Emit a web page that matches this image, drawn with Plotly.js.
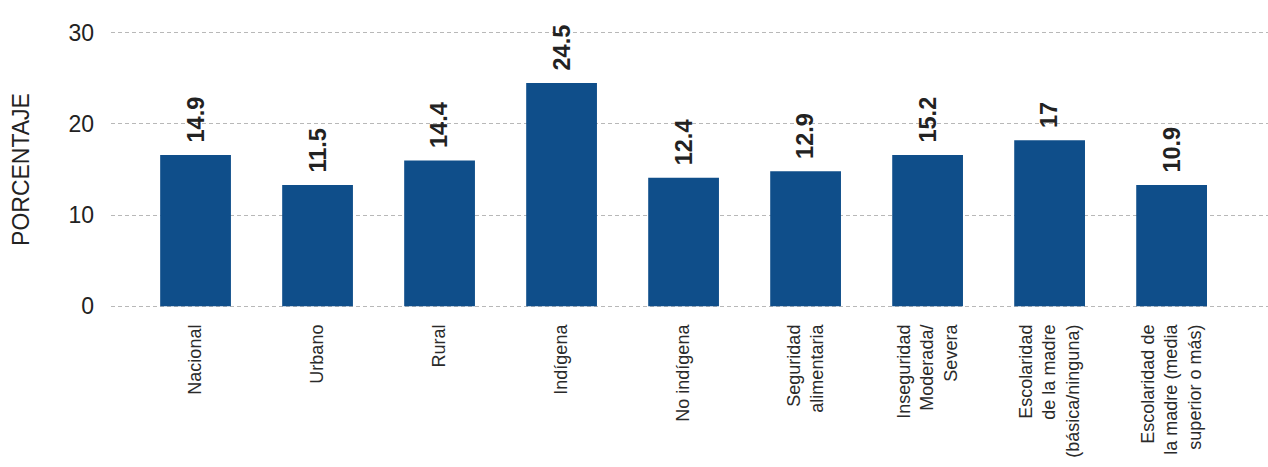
<!DOCTYPE html>
<html>
<head>
<meta charset="utf-8">
<script src="https://cdn.plot.ly/plotly-3.0.1.min.js"></script>
<style>
  html, body { margin: 0; padding: 0; background: #fff; }
  #chart { width: 1268px; height: 467px; }
</style>
</head>
<body>
<div id="chart"></div>
<script>
// Categories (tick labels) as shown under each bar
const categories = [
  "Nacional",
  "Urbano",
  "Rural",
  "Indígena",
  "No indígena",
  "Seguridad<br>alimentaria",
  "Inseguridad<br>Moderada/<br>Severa",
  "Escolaridad<br>de la madre<br>(básica/ninguna)",
  "Escolaridad de<br>la madre (media<br>superior o más)"
];
// Bar heights
const barValues = [16.6, 13.3, 16.0, 24.5, 14.1, 14.8, 16.6, 18.2, 13.3];
// Value labels printed above the bars
const valueLabels = ["14.9", "11.5", "14.4", "24.5", "12.4", "12.9", "15.2", "17", "10.9"];
const yTicks = [0, 10, 20, 30];

const xIdx = categories.map((_, i) => i);

const trace = {
  type: "bar",
  x: xIdx,
  y: barValues,
  width: 0.58,
  marker: { color: "#0f4e8a", line: { width: 0 } },
  hoverinfo: "skip"
};

const annotations = xIdx.map((i) => ({
  x: i,
  y: barValues[i],
  xref: "x",
  yref: "y",
  text: valueLabels[i],
  textangle: -90,
  showarrow: false,
  xanchor: "center",
  yanchor: "bottom",
  yshift: 10,
  font: { family: "Liberation Sans, Arial, sans-serif", size: 23.5, color: "#222", weight: "bold" }
}));

const layout = {
  width: 1268,
  height: 467,
  margin: { l: 111, r: 0, t: 31, b: 159, pad: 0 },
  paper_bgcolor: "#ffffff",
  plot_bgcolor: "#ffffff",
  showlegend: false,
  xaxis: {
    type: "linear",
    range: [-0.693, 8.79],
    tickmode: "array",
    tickvals: xIdx,
    ticktext: categories,
    tickangle: -90,
    showgrid: false,
    zeroline: false,
    showline: false,
    ticks: "",
    ticklabelstandoff: 12,
    tickfont: { family: "Liberation Sans, Arial, sans-serif", size: 18, color: "#2a2a2a" }
  },
  yaxis: {
    range: [-0.2, 30.2],
    tickmode: "array",
    tickvals: yTicks,
    ticktext: yTicks.map(String),
    showgrid: true,
    gridcolor: "#b8b8b8",
    gridwidth: 1,
    griddash: "4px,3px",
    zeroline: false,
    showline: false,
    ticks: "",
    ticklabelstandoff: 16,
    tickfont: { family: "Liberation Sans, Arial, sans-serif", size: 23, color: "#222" },
    title: {
      text: "PORCENTAJE",
      font: { family: "Liberation Sans, Arial, sans-serif", size: 23, color: "#222" },
      standoff: 32
    }
  },
  annotations: annotations
};

Plotly.newPlot("chart", [trace], layout, { displayModeBar: false, staticPlot: true });
</script>
</body>
</html>
